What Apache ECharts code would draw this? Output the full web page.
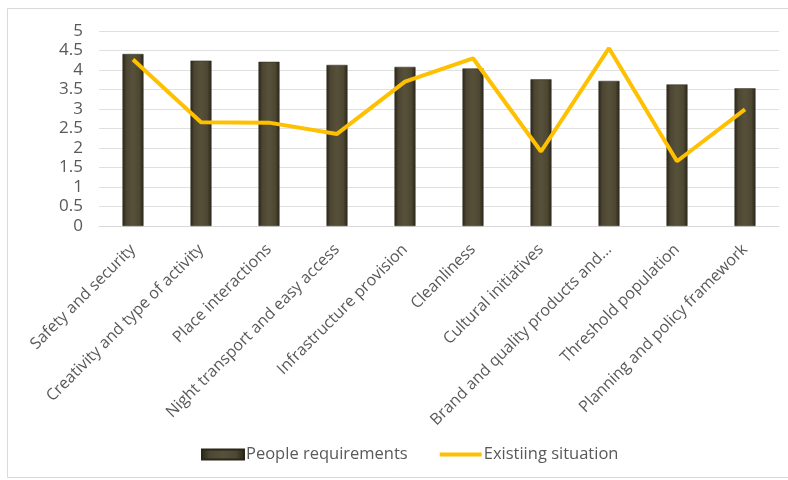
<!DOCTYPE html>
<html><head><meta charset="utf-8">
<script src="https://cdn.jsdelivr.net/npm/echarts@6/dist/echarts.min.js"></script>
<style>html,body{margin:0;padding:0;background:#fff}#c{width:788px;height:480px}</style>
</head><body><div id="c"></div>
<script>
var categories = ["Safety and security","Creativity and type of activity","Place interactions","Night transport and easy access","Infrastructure provision","Cleanliness","Cultural initiatives","Brand and quality products and...","Threshold population","Planning and policy framework"];
var peopleRequirements = [4.41,4.24,4.21,4.13,4.08,4.04,3.76,3.72,3.63,3.53];
var existingSituation = [4.27,2.66,2.65,2.36,3.70,4.30,1.91,4.56,1.66,2.99];

var chart = echarts.init(document.getElementById('c'), null, {renderer:'canvas'});
var barGrad = new echarts.graphic.LinearGradient(0,0,1,0,[
  {offset:0,color:'#2a2618'},{offset:0.2,color:'#4d4733'},{offset:0.5,color:'#57513a'},{offset:0.8,color:'#4d4733'},{offset:1,color:'#2a2618'}]);
chart.setOption({
  animation:false,
  textStyle:{fontFamily:'Open Sans'},
  graphic:[{type:'rect',shape:{x:7.5,y:8.5,width:790,height:469},style:{fill:'none',stroke:'#d9d9d9',lineWidth:1}}],
  grid:{left:99,right:9,top:31,bottom:254},
  legend:{top:441,left:196,itemGap:30,itemWidth:42,itemHeight:10,
    textStyle:{color:'#595959',fontSize:16.5,fontFamily:'Open Sans',padding:[0,0,0,-3]},
    data:[{name:'People requirements',icon:'rect'},
          {name:'Existiing situation',itemStyle:{color:'rgba(0,0,0,0)',borderWidth:0},lineStyle:{color:'#FFC000',width:4}}]},
  xAxis:{type:'category',data:categories,
    axisLine:{lineStyle:{color:'#d9d9d9'}},axisTick:{show:false},
    axisLabel:{rotate:45,interval:0,color:'#595959',fontSize:16,margin:21}},
  yAxis:{type:'value',min:0,max:5,interval:0.5,
    axisLine:{show:false},axisTick:{show:false},
    splitLine:{lineStyle:{color:'#e0e0e0'}},
    axisLabel:{color:'#595959',fontSize:17,margin:16}},
  series:[
    {name:'People requirements',type:'bar',data:peopleRequirements,barWidth:21,
      itemStyle:{color:barGrad,borderColor:'#2a2618',borderWidth:0.5}},
    {name:'Existiing situation',type:'line',data:existingSituation,symbol:'none',showSymbol:false,
      lineStyle:{color:'#FFC000',width:4},itemStyle:{color:'#FFC000'}}
  ]
});
</script></body></html>
